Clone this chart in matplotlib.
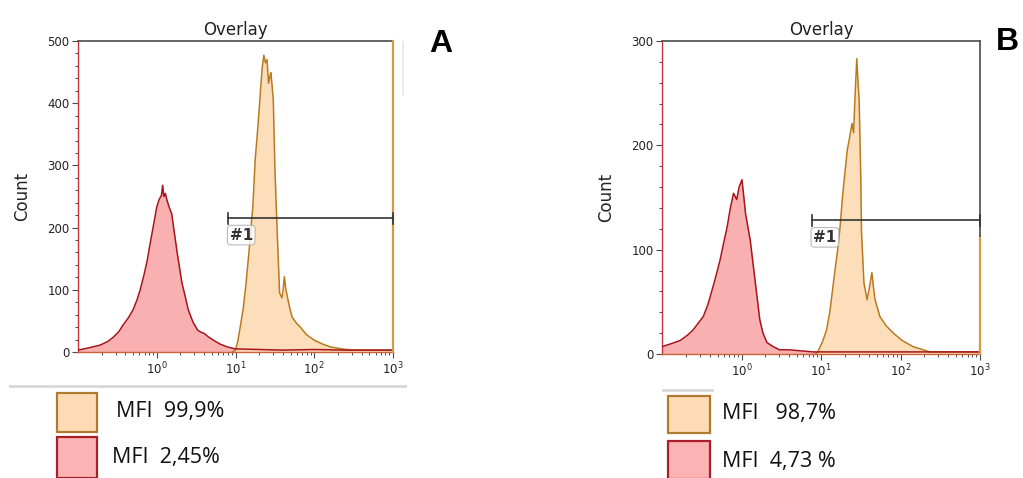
import numpy as np
import matplotlib
matplotlib.use("Agg")
import matplotlib.pyplot as plt
from matplotlib.patches import Rectangle
from matplotlib.lines import Line2D
from matplotlib.ticker import LogLocator, MultipleLocator, NullFormatter

# ---------------- data (log10 fluorescence, count) ----------------
red_A_log = [-1.00, -0.85, -0.72, -0.62, -0.55, -0.48, -0.43, -0.36, -0.30, -0.25, -0.21,
             -0.16, -0.12, -0.09, -0.06, -0.03, 0.00, 0.03, 0.06, 0.075, 0.09, 0.11, 0.13,
             0.16, 0.19, 0.22, 0.26, 0.29, 0.32, 0.36, 0.40, 0.46, 0.52, 0.56, 0.60, 0.66,
             0.72, 0.80, 0.90, 1.00, 1.30, 1.60, 2.00, 2.40, 2.70, 3.00]
red_A_cnt = [3, 7, 11, 17, 24, 33, 43, 55, 68, 84, 100,
             125, 148, 170, 191, 212, 233, 245, 252, 268, 250, 255, 244,
             232, 222, 195, 159, 135, 111, 90, 68, 48, 35, 32, 30, 24,
             19, 13, 8, 5, 4, 3, 4, 3, 3, 3]

ora_A_log = [0.96, 1.00, 1.03, 1.06, 1.10, 1.13, 1.17, 1.20, 1.22, 1.25, 1.28, 1.30,
             1.32, 1.34, 1.36, 1.38, 1.40, 1.42, 1.44, 1.45, 1.47, 1.48, 1.50, 1.53,
             1.56, 1.59, 1.605, 1.62, 1.64, 1.66, 1.69, 1.72, 1.77, 1.83, 1.90, 2.00,
             2.10, 2.21, 2.35, 2.50, 2.70, 2.90, 3.00]
ora_A_cnt = [0, 3, 18, 40, 72, 105, 159, 205, 233, 309, 355, 389,
             425, 458, 477, 465, 470, 432, 445, 449, 420, 405, 297, 191,
             95, 87, 100, 121, 100, 88, 70, 56, 47, 39, 28, 19,
             13, 8, 5, 3, 3, 3, 3]

red_B_log = [-1.00, -0.88, -0.77, -0.68, -0.61, -0.54, -0.48, -0.42, -0.36, -0.31, -0.27,
             -0.22, -0.18, -0.14, -0.10, -0.06, -0.03, 0.006, 0.03, 0.05, 0.08, 0.11,
             0.14, 0.17, 0.20, 0.23, 0.27, 0.32, 0.40, 0.48, 0.60, 0.75, 0.90, 1.20,
             1.60, 2.00, 2.50, 3.00]
red_B_cnt = [7, 10, 13, 18, 23, 30, 36, 48, 64, 78, 90,
             108, 122, 140, 154, 148, 160, 167, 150, 135, 122, 109,
             90, 71, 52, 33, 20, 11, 7, 4, 4, 3, 2, 2,
             2, 2, 2, 2]

ora_B_log = [0.93, 0.96, 1.02, 1.07, 1.11, 1.14, 1.18, 1.21, 1.24, 1.27, 1.30, 1.33,
             1.37, 1.39, 1.41, 1.43, 1.45, 1.465, 1.48, 1.50, 1.51, 1.54, 1.58, 1.61,
             1.64, 1.66, 1.68, 1.74, 1.82, 1.91, 2.02, 2.16, 2.37, 2.60, 2.80, 3.00]
ora_B_cnt = [0, 2, 12, 23, 40, 58, 83, 100, 122, 150, 173, 195,
             212, 221, 212, 250, 283, 262, 243, 170, 116, 68, 52, 64,
             78, 64, 52, 36, 27, 20, 13, 7, 2, 2, 2, 2]

panels = ["A", "B"]
ymax_list = [500, 300]
gate_left = [8.1, 7.7]
gate_y = [215, 128]
right_edge_count = [500, 113]
legend_labels = [["MFI  99,9%", "MFI  2,45%"], ["MFI   98,7%", "MFI  4,73 %"]]

# ---------------- style ----------------
RED_FILL = "#f9b0b0"
RED_EDGE = "#a8141a"
ORA_FILL = "#fddcb5"
ORA_EDGE = "#b97a1f"
SPINE = "#4a4a4a"

fig = plt.figure(figsize=(10.23, 4.78), dpi=100)
fig.patch.set_facecolor("white")

axes_rects = [
    [78 / 1023, 1 - 352 / 478, 315 / 1023, 311 / 478],
    [662 / 1023, 1 - 354 / 478, 318 / 1023, 313 / 478],
]

series = [
    (red_A_log, red_A_cnt, ora_A_log, ora_A_cnt),
    (red_B_log, red_B_cnt, ora_B_log, ora_B_cnt),
]

for i, rect in enumerate(axes_rects):
    ax = fig.add_axes(rect)
    rl, rc, ol, oc = series[i]
    rx = 10 ** np.array(rl)
    ox = 10 ** np.array(ol)
    ax.fill_between(rx, 0, rc, color=RED_FILL, lw=0, zorder=1)
    ax.fill_between(ox, 0, oc, color=ORA_FILL, lw=0, alpha=0.92, zorder=2)
    ax.plot(rx, rc, color=RED_EDGE, lw=1.1, zorder=4)
    ax.plot(ox, oc, color=ORA_EDGE, lw=1.1, zorder=3)

    ax.set_xscale("log")
    ax.set_xlim(0.1, 1000)
    ax.set_ylim(0, ymax_list[i])

    ax.xaxis.set_minor_locator(LogLocator(base=10, subs=np.arange(2, 10), numticks=20))
    ax.xaxis.set_minor_formatter(NullFormatter())
    ax.set_xticks([1, 10, 100, 1000])
    ax.set_xticklabels([r"$10^0$", r"$10^1$", r"$10^2$", r"$10^3$"])
    ax.yaxis.set_major_locator(MultipleLocator(100))
    ax.yaxis.set_minor_locator(MultipleLocator(20))

    ax.tick_params(axis="both", which="major", direction="out", length=4, width=0.8,
                   color=SPINE, labelsize=8.5, labelcolor="#222222", pad=2)
    ax.tick_params(axis="both", which="minor", direction="out", length=2.5, width=0.7,
                   color=SPINE)

    ax.spines["top"].set_color(SPINE)
    ax.spines["top"].set_linewidth(1.2)
    ax.spines["left"].set_color("#c8343a")
    ax.spines["left"].set_linewidth(1.0)
    ax.spines["bottom"].set_color("#c8643a")
    ax.spines["bottom"].set_linewidth(1.0)
    ax.spines["right"].set_visible(False)
    frac = right_edge_count[i] / ymax_list[i]
    ax.axvline(1000, ymin=0, ymax=frac, color="#d49a45", lw=1.6, clip_on=False, zorder=5)
    if frac < 1:
        ax.axvline(1000, ymin=frac, ymax=1, color=SPINE, lw=1.2, clip_on=False, zorder=5)

    ax.set_title("Overlay", fontsize=12, color="#222222", pad=4)
    ax.set_ylabel("Count", fontsize=12, color="#222222", labelpad=12)

    # gate #1
    gl, gy = gate_left[i], gate_y[i]
    ax.plot([gl, 1000], [gy, gy], color="#333333", lw=1.2, zorder=6, clip_on=False)
    cap = ymax_list[i] * 0.018
    ax.plot([gl, gl], [gy - cap, gy + cap], color="#333333", lw=1.2, zorder=6)
    ax.plot([1000, 1000], [gy - cap, gy + cap], color="#333333", lw=1.2, zorder=6, clip_on=False)
    ax.text(gl * 1.04, gy - ymax_list[i] * 0.03, "#1", fontsize=11, fontweight="bold",
            color="#333333", ha="left", va="top", zorder=7,
            bbox=dict(boxstyle="round,pad=0.15,rounding_size=0.25", fc="white",
                      ec="#aaaaaa", lw=0.8, alpha=0.8))

# panel letters
fig.text(441 / 1023, 1 - 44 / 478, "A", fontsize=23, fontweight="bold",
         family="Liberation Sans", ha="center", va="center")
fig.text(1007 / 1023, 1 - 42 / 478, "B", fontsize=23, fontweight="bold",
         family="Liberation Sans", ha="center", va="center")

# faint artifact line right of panel A
fig.add_artist(Line2D([403 / 1023, 403 / 1023], [1 - 42 / 478, 1 - 95 / 478],
                      color="#e6e6e6", lw=1.2))

# legends
legend_boxes = [
    [(57, 393, 40, 39), (57, 437, 40, 41)],
    [(668, 396, 42, 37), (668, 441, 42, 38)],
]
legend_text_pos = [[(116, 411), (112, 458)], [(722, 413), (722, 461)]]
sep_lines = [(10, 405, 386), (663, 712, 390)]
fills = [(ORA_FILL, "#b07a30"), ("#fbb3b3", "#a8202a")]

for i in range(2):
    x0, x1, yl = sep_lines[i]
    fig.add_artist(Line2D([x0 / 1023, x1 / 1023], [1 - yl / 478, 1 - yl / 478],
                          color="#d8d8d8", lw=2))
    for j in range(2):
        bx, by, bw, bh = legend_boxes[i][j]
        fc, ec = fills[j]
        fig.add_artist(Rectangle((bx / 1023, 1 - (by + bh) / 478), bw / 1023, bh / 478,
                                 transform=fig.transFigure, fc=fc, ec=ec, lw=1.6))
        tx, ty = legend_text_pos[i][j]
        fig.text(tx / 1023, 1 - ty / 478, legend_labels[i][j], fontsize=15.5,
                 family=["Open Sans", "DejaVu Sans"],
                 color="#111111", ha="left", va="center")

fig.savefig("out.png", dpi=100, facecolor="white")
